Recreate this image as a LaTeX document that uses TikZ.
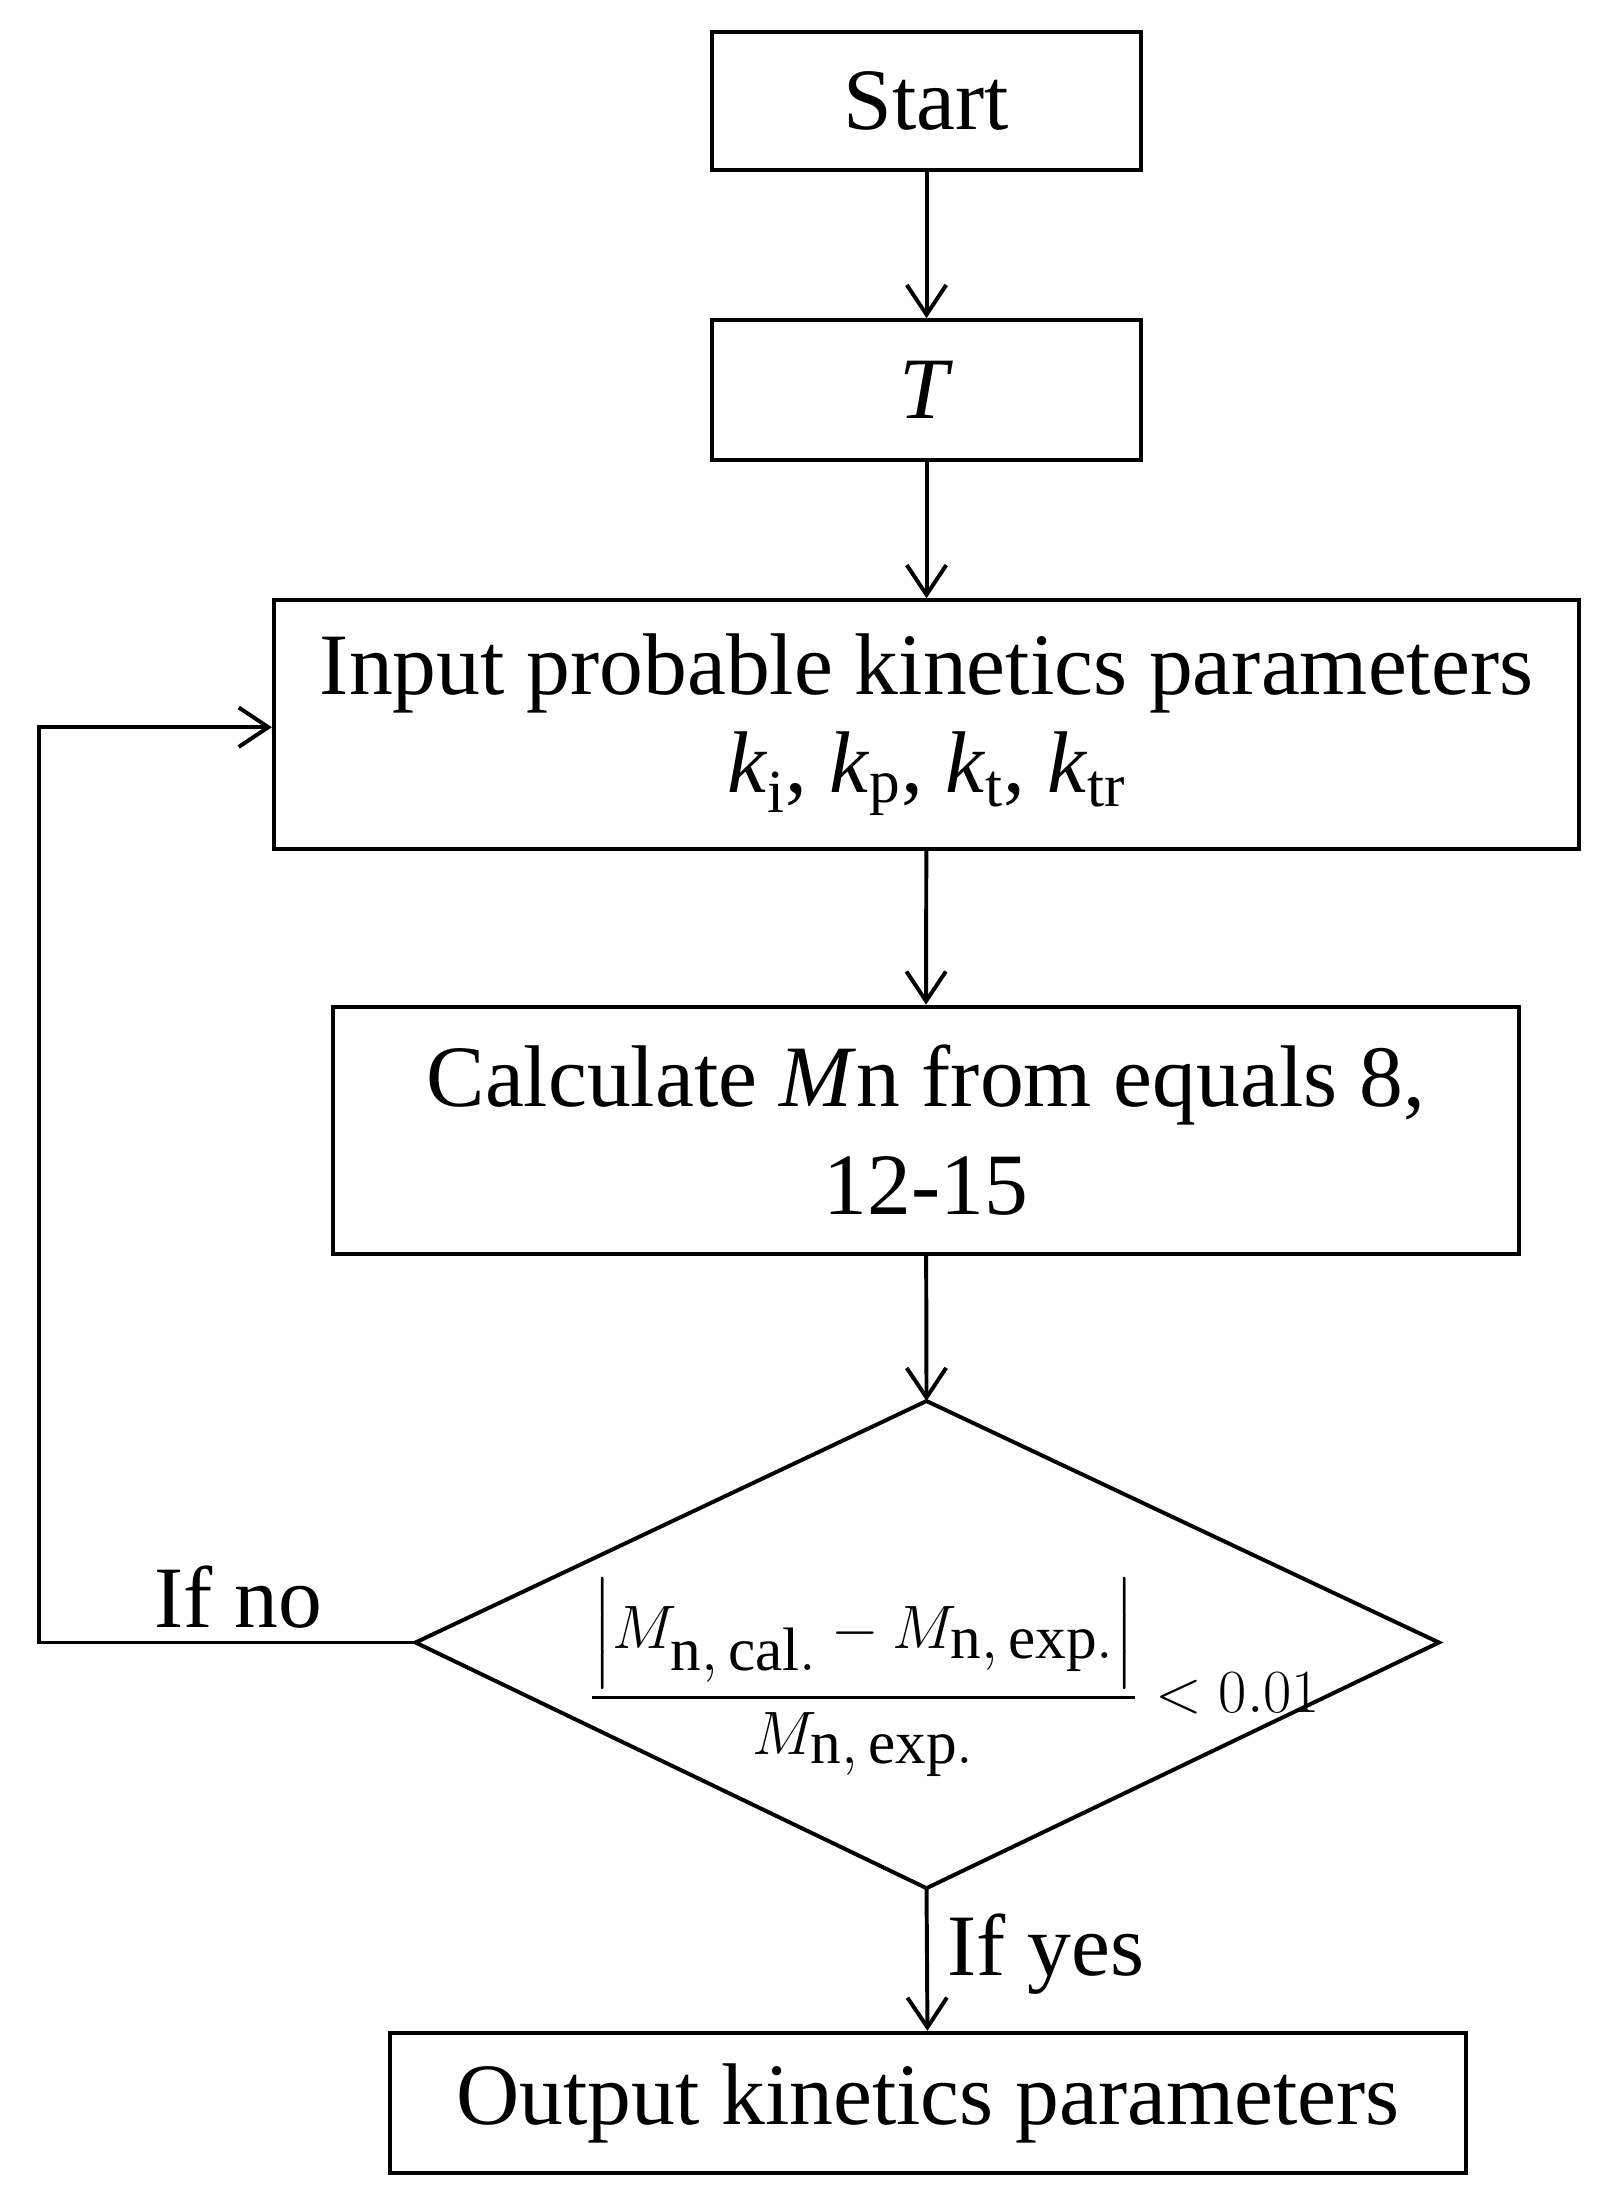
\documentclass[tikz,border=0pt]{standalone}
\usepackage{amsmath}
\usepackage{fontspec}
\setmainfont{Liberation Serif}
\usetikzlibrary{arrows.meta}
\begin{document}
\begin{tikzpicture}[x={(0.02cm,0)},y={(0,-0.02cm)},
  box/.style={draw,line width=1.6pt,inner sep=0pt,align=center,font=\fontsize{35.5}{44}\selectfont},
  arr/.style={line width=1.6pt,-{Straight Barb[length=12pt,width=16pt]}},
  lbl/.style={font=\fontsize{35.5}{44}\selectfont}]
\useasboundingbox (0,0) rectangle (1145,1565);
\node[box,minimum width=6.12cm,minimum height=1.96cm] (start) at (660,72) {Start};
\node[box,minimum width=6.12cm,minimum height=2.0cm] (t) at (660,278) {\textit{T}};
\node[box,minimum width=18.6cm,minimum height=3.54cm] (inp) at (660,516) {Input probable kinetics parameters\\[-4pt]\textit{k}\textsubscript{i}, \textit{k}\textsubscript{p}, \textit{k}\textsubscript{t}, \textit{k}\textsubscript{tr}};
\node[box,minimum width=16.9cm,minimum height=3.52cm] (calc) at (659.5,805) {Calculate \textit{M}n from equals 8,\\12-15};
\coordinate (dt) at (660,998);
\coordinate (dl) at (296,1170);
\coordinate (dr) at (1025,1170);
\coordinate (db) at (660,1345);
\draw[line width=1.6pt] (dt) -- (dr) -- (db) -- (dl) -- cycle;
\node[lbl] (form) at (680,1195) {$\dfrac{\left|M_{\mathrm{n,\,cal.}}-M_{\mathrm{n,\,exp.}}\right|}{M_{\mathrm{n,\,exp.}}}<0.01$};
\node[box,minimum width=15.34cm,minimum height=2.0cm] (out) at (661,1498) {Output kinetics parameters};
\draw[arr] (start) -- (t);
\draw[arr] (t) -- (inp);
\draw[arr] (inp) -- (calc);
\draw[arr] (calc) -- (dt);
\draw[arr] (db) -- (out);
\coordinate (c1) at (28,1170);
\coordinate (c2) at (28,518);
\draw[arr] (dl) -- (c1) -- (c2) -- (inp.west |- c2);
\node[lbl] (no) at (170,1138) {If no};
\node[lbl] (yes) at (745,1392) {If yes};
\end{tikzpicture}
\end{document}
